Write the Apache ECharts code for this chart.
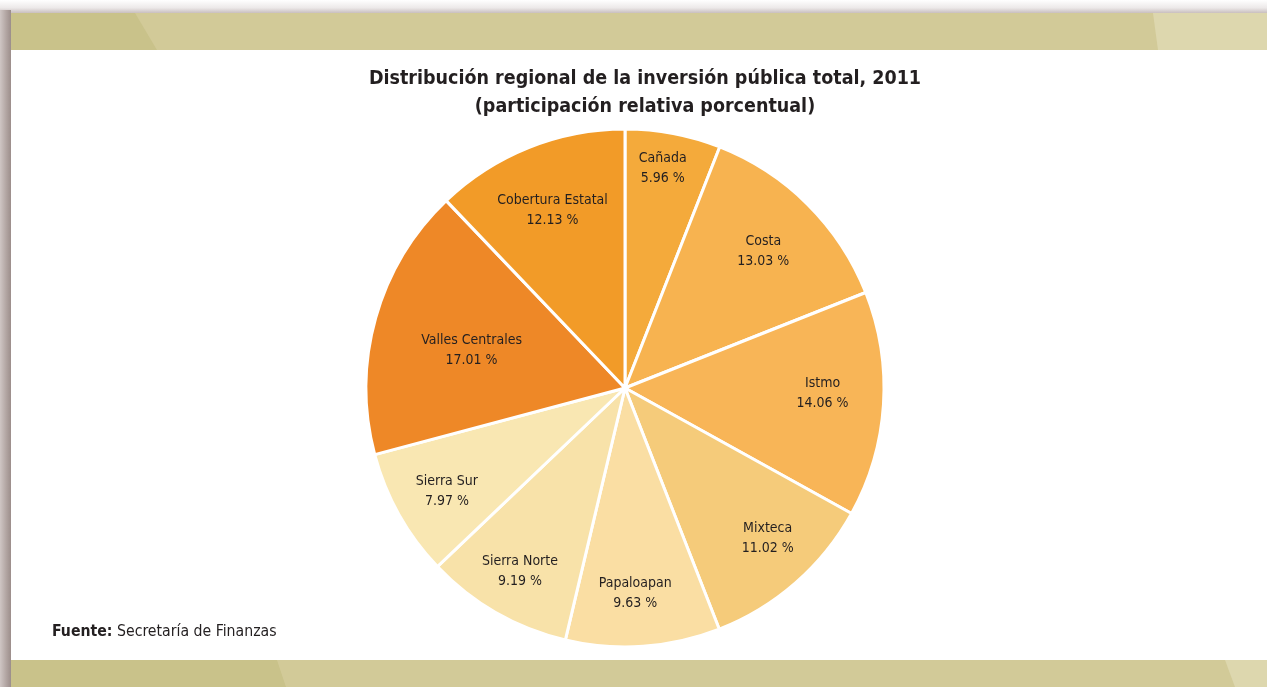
<!DOCTYPE html>
<html>
<head>
<meta charset="utf-8">
<script src="https://cdn.jsdelivr.net/npm/echarts@6/dist/echarts.min.js"></script>
<style>
  html, body { margin: 0; padding: 0; background: #fff; }
  #chart { width: 1267px; height: 687px; }
</style>
</head>
<body>
<div id="chart"></div>
<script>
  // regiones y participación (%)
  const regiones = ['Cañada', 'Costa', 'Istmo', 'Mixteca', 'Papaloapan', 'Sierra Norte', 'Sierra Sur', 'Valles Centrales', 'Cobertura Estatal'];
  const participacion = [5.96, 13.03, 14.06, 11.02, 9.63, 9.19, 7.97, 17.01, 12.13];
  const colores = ['#f4aa3b', '#f7b350', '#f8b557', '#f5cb7a', '#fadea3', '#f8e2a9', '#f9e7b2', '#ee8827', '#f29b28'];
  // ajuste fino de las etiquetas (px)
  const desplazamientos = [[0, -20], [-5, 7], [-5, -8], [9, -2], [-4, 3], [-4, 7], [-1, 4], [42, 17], [3, 11]];

  const chart = echarts.init(document.getElementById('chart'));
  const font = '"Liberation Sans Narrow", "DejaVu Sans Condensed", sans-serif';

  const pieData = regiones.map(function (name, i) {
    return { name: name, value: participacion[i], itemStyle: { color: colores[i] } };
  });

  const option = {
    backgroundColor: '#fff',
    animation: false,
    title: {
      text: 'Distribución regional de la inversión pública total, 2011\n(participación relativa porcentual)',
      left: 640,
      top: 60,
      textAlign: 'center',
      textStyle: {
        fontFamily: font,
        fontWeight: 'bold',
        fontSize: 19.5,
        lineHeight: 28,
        color: '#231f20'
      }
    },
    graphic: [
      // sombra superior
      {
        type: 'rect', shape: { x: 0, y: 0, width: 1267, height: 13 },
        style: { fill: new echarts.graphic.LinearGradient(0, 0, 0, 1, [
          { offset: 0, color: '#ffffff' }, { offset: 0.6, color: '#ece9e9' }, { offset: 1, color: '#c9bfbf' }
        ]) }
      },
      // banda superior
      { type: 'rect', shape: { x: 11, y: 13, width: 1256, height: 37 }, style: { fill: '#d2ca98' } },
      { type: 'polygon', shape: { points: [[11, 13], [135, 13], [157, 50], [11, 50]] }, style: { fill: '#c9c28a' } },
      { type: 'polygon', shape: { points: [[1153, 13], [1267, 13], [1267, 50], [1158, 50]] }, style: { fill: '#ddd7ae' } },
      // banda inferior
      { type: 'rect', shape: { x: 11, y: 660, width: 1256, height: 27 }, style: { fill: '#d2ca98' } },
      { type: 'polygon', shape: { points: [[11, 660], [277, 660], [286, 687], [11, 687]] }, style: { fill: '#c9c28a' } },
      { type: 'polygon', shape: { points: [[1225, 660], [1267, 660], [1267, 687], [1235, 687]] }, style: { fill: '#ddd7ae' } },
      // franja izquierda
      {
        type: 'rect', shape: { x: 0, y: 10, width: 11, height: 677 },
        style: { fill: new echarts.graphic.LinearGradient(0, 0, 1, 0, [
          { offset: 0, color: '#cfc6c4' }, { offset: 0.6, color: '#b0a3a0' }, { offset: 1, color: '#9c8e8b' }
        ]) }
      },
      // fuente
      {
        type: 'text', left: 52, top: 624,
        style: {
          text: '{b|Fuente:} Secretaría de Finanzas',
          rich: {
            b: { fontFamily: font, fontWeight: 'bold', fontSize: 15.7, fill: '#231f20' }
          },
          fontFamily: font, fontSize: 15.7, fill: '#231f20'
        }
      }
    ],
    series: [
      {
        type: 'pie',
        center: [625, 388],
        radius: [0, 259],
        startAngle: 90,
        clockwise: true,
        silent: true,
        itemStyle: { borderColor: '#fff', borderWidth: 3 },
        label: { show: false },
        labelLine: { show: false },
        data: pieData
      },
      {
        // serie auxiliar solo para colocar etiquetas
        type: 'pie',
        center: [625, 388],
        radius: [150, 250],
        startAngle: 90,
        clockwise: true,
        silent: true,
        itemStyle: { color: 'rgba(0,0,0,0)' },
        label: {
          show: true,
          position: 'inside',
          fontFamily: font,
          fontSize: 14,
          lineHeight: 20,
          color: '#231f20',
          formatter: function (p) {
            return p.name + '\n' + p.value.toFixed(2) + ' %';
          }
        },
        labelLine: { show: false },
        data: regiones.map(function (name, i) {
          return { name: name, value: participacion[i], label: { offset: desplazamientos[i] } };
        })
      }
    ]
  };
  chart.setOption(option);
</script>
</body>
</html>
